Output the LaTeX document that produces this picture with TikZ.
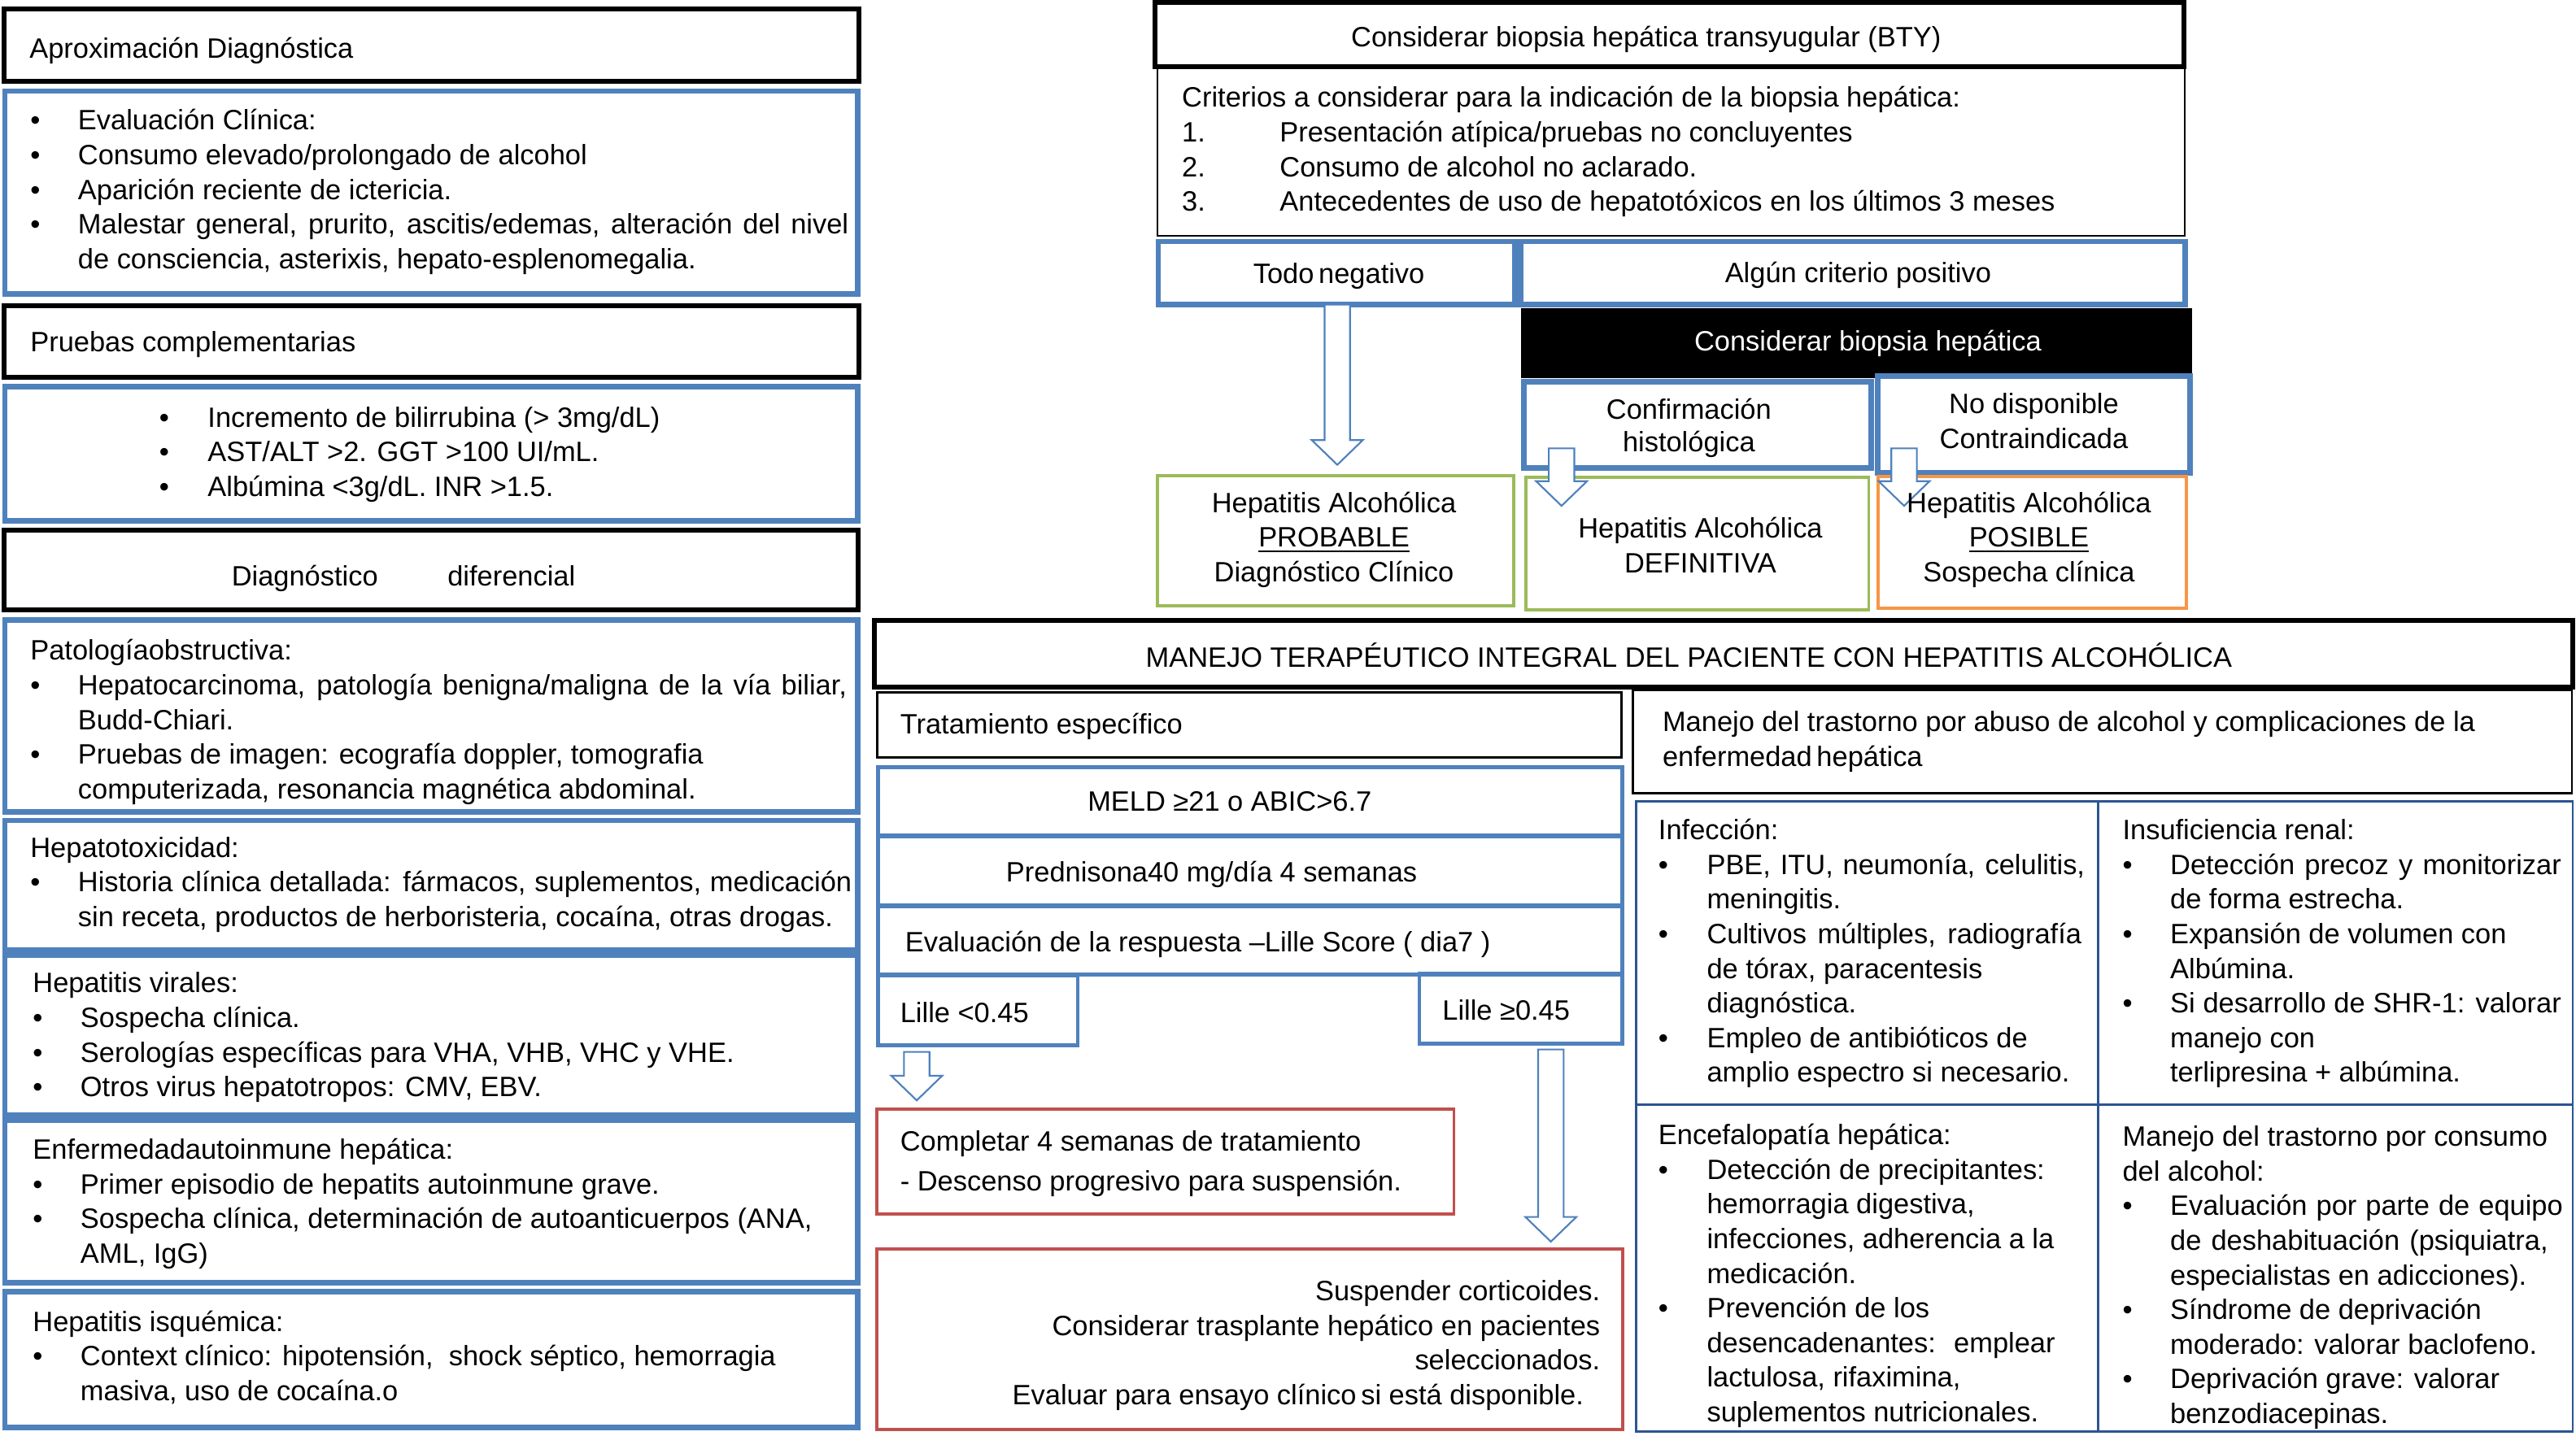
\documentclass[tikz,border=0pt]{standalone}
\usepackage{fontspec}
\setmainfont{Liberation Sans}
\usetikzlibrary{fit,calc}
\definecolor{bA}{HTML}{4F81BD}
\definecolor{bG}{HTML}{2C5592}
\definecolor{gA}{HTML}{9BBB59}
\definecolor{oA}{HTML}{F79646}
\definecolor{rA}{HTML}{C0504D}
\newcommand\fsz{\fontsize{9.7}{12}\selectfont}
\newcommand\barhs{1.55mm}
\newcommand\barhh{3.1mm}
\newcommand\barhl{3mm}
\newcommand\jline[2]{\makebox[#1][s]{#2}}
\newcommand\blockarrow[2]{%
  \draw[barrow] let \p1=(#1), \p2=(#2) in
   (\x2-\barhs,\y1) -- (\x2+\barhs,\y1) -- (\x2+\barhs,\y2+\barhl) -- (\x2+\barhh,\y2+\barhl)
   -- (\x2,\y2) -- (\x2-\barhh,\y2+\barhl) -- (\x2-\barhs,\y2+\barhl) -- cycle;}
\begin{document}
\begin{tikzpicture}[x=0.2mm,y=-0.2mm,
  every node/.style={font=\fsz},
  box/.style={inner sep=0pt, outer sep=0pt, draw},
  kbox/.style={box, draw=black, line width=1.7pt},
  tbox/.style={box, draw=black, line width=0.8pt},
  bbox/.style={box, draw=bA, line width=1.9pt},
  mbox/.style={box, draw=bA, line width=1.3pt},
  gbox/.style={box, draw=bG, line width=0.8pt},
  grbox/.style={box, draw=gA, line width=1.1pt},
  obox/.style={box, draw=oA, line width=1.1pt},
  rbox/.style={box, draw=rA, line width=1.1pt},
  fbox/.style={box, draw=black, fill=black, line width=1pt},
  tl/.style={anchor=base west, inner sep=0pt, outer sep=0pt},
  tc/.style={anchor=base, inner sep=0pt, outer sep=0pt},
  tr/.style={anchor=base east, inner sep=0pt, outer sep=0pt},
  barrow/.style={draw=bA, fill=white, line width=0.6pt, line join=miter}
]
\fill[white] (0,0) rectangle (1568,873.9);
\useasboundingbox (0,0) rectangle (1568,873.9);

% ---------- left column boxes
\node[kbox, fit={(2.5,5.5) (523,49.5)}] (apx) {};
\node[bbox, fit={(3,55.5) (522,179)}] (eval) {};
\node[kbox, fit={(2.5,186) (523,229.5)}] (pru) {};
\node[bbox, fit={(3,235.5) (522,317)}] (lab) {};
\node[kbox, fit={(2.5,323) (522.5,371.5)}] (ddx) {};
\node[bbox, fit={(3,377.5) (522,494.5)}] (obs) {};
\node[bbox, fit={(3,499.5) (522,578.5)}] (hep) {};
\node[bbox, fit={(3,581.5) (522,679)}] (vir) {};
\node[bbox, fit={(3,682) (522,781)}] (aut) {};
\node[bbox, fit={(3,786.5) (522,869)}] (isq) {};

% ---------- top right boxes
\node[tbox, line width=0.6pt, fit={(704.5,40.5) (1330,143.5)}] (crit) {};
\node[kbox, fit={(703,1.5) (1329.5,40.5)}] (bty) {};
\node[bbox, fit={(705,147) (922,185.5)}] (neg) {};
\node[bbox, fit={(925.5,147) (1330,185.5)}] (pos) {};
\node[fbox, fit={(926.5,188.5) (1333.5,229.5)}] (cbh) {};
\node[bbox, fit={(927.5,232.5) (1139,285)}] (conf) {};
\node[bbox, fit={(1143,229) (1333,288)}] (nod) {};
\node[grbox, fit={(704.5,289.5) (921.5,369)}] (prob) {};
\node[grbox, fit={(929,290.5) (1137.5,371.5)}] (defi) {};
\node[obox, fit={(1143,290) (1331,370.5)}] (posi) {};

% ---------- treatment boxes
\node[kbox, fit={(532,378) (1566,418.5)}] (manejo) {};
\node[tbox, fit={(534,421.5) (987,461)}] (trat) {};
\node[tbox, fit={(994,420) (1565.5,483)}] (mtr) {};
\node[mbox, fit={(534.5,467) (987.5,508.5)}] (meld) {};
\node[mbox, fit={(534.5,509.5) (987.5,551)}] (pred) {};
\node[mbox, fit={(534.5,552) (987.5,593.5)}] (evl) {};
\node[mbox, fit={(534.5,594) (656,636.5)}] (lil1) {};
\node[mbox, fit={(864,593) (987.5,635.5)}] (lil2) {};
\node[rbox, fit={(533.5,675.5) (885,739)}] (comp) {};
\node[rbox, fit={(533.5,760.5) (987.5,870.5)}] (susp) {};
\node[gbox, fit={(996,488) (1277,672.5)}] (inf) {};
\node[gbox, fit={(1277,488) (1566,672.5)}] (ren) {};
\node[gbox, fit={(996,672.5) (1277,871.5)}] (enc) {};
\node[gbox, fit={(1277,672.5) (1566,871.5)}] (alc) {};

% ---------- block arrows
\coordinate (a1t) at (814,283);
\coordinate (a2s) at (950.5,273);
\coordinate (a2t) at (950.5,308);
\coordinate (a3s) at (1159,273);
\coordinate (a3t) at (1159,308);
\coordinate (a4t) at (558,670);
\coordinate (a5t) at (944,756);
\blockarrow{neg.south}{a1t}
\blockarrow{a2s}{a2t}
\blockarrow{a3s}{a3t}
\blockarrow{$(lil1.south)+(0,4)$}{a4t}
\blockarrow{$(lil2.south)+(0,3.5)$}{a5t}

% ---------- left texts
\node[tl] (apxT) at (18,35.5) {Aproximación Diagnóstica};
\node[tl] (evalT) at (18.5,79.2) {\begin{tabular}[t]{@{}p{5.8mm}@{}l@{}}
•& Evaluación Clínica:\\
•& Consumo elevado/prolongado de alcohol\\
•& Aparición reciente de ictericia.\\
•& \jline{93.8mm}{Malestar general, prurito, ascitis/edemas, alteración del nivel}\\
 & de consciencia, asterixis, hepato-esplenomegalia.
\end{tabular}};
\node[tl] (pruT) at (18.5,214.2) {Pruebas complementarias};
\node[tl] (labT) at (97,260) {\begin{tabular}[t]{@{}p{5.9mm}@{}l@{}}
•& Incremento de bilirrubina (> 3mg/dL)\\
•& AST/ALT >2. GGT >100 UI/mL.\\
•& Albúmina <3g/dL. INR >1.5.
\end{tabular}};
\node[tl] (ddxT) at (141,356.5) {\makebox[26.3mm][l]{Diagnóstico}diferencial};
\node[tl] (obsT) at (18.5,402) {\begin{tabular}[t]{@{}p{5.8mm}@{}l@{}}
\multicolumn{2}{@{}l@{}}{Patologíaobstructiva:}\\
•& \jline{93.6mm}{Hepatocarcinoma, patología benigna/maligna de la vía biliar,}\\
 & Budd-Chiari.\\
•& Pruebas de imagen: ecografía doppler, tomografia\\
 & computerizada, resonancia magnética abdominal.
\end{tabular}};
\node[tl] (hepT) at (18.5,522) {\begin{tabular}[t]{@{}p{5.8mm}@{}l@{}}
\multicolumn{2}{@{}l@{}}{Hepatotoxicidad:}\\
•& \jline{94.2mm}{Historia clínica detallada: fármacos, suplementos, medicación}\\
 & sin receta, productos de herboristeria, cocaína, otras drogas.
\end{tabular}};
\node[tl] (virT) at (20,604.5) {\begin{tabular}[t]{@{}p{5.8mm}@{}l@{}}
\multicolumn{2}{@{}l@{}}{Hepatitis virales:}\\
•& Sospecha clínica.\\
•& Serologías específicas para VHA, VHB, VHC y VHE.\\
•& Otros virus hepatotropos: CMV, EBV.
\end{tabular}};
\node[tl] (autT) at (20,705.8) {\begin{tabular}[t]{@{}p{5.8mm}@{}l@{}}
\multicolumn{2}{@{}l@{}}{Enfermedadautoinmune hepática:}\\
•& Primer episodio de hepatits autoinmune grave.\\
•& Sospecha clínica, determinación de autoanticuerpos (ANA,\\
 & AML, IgG)
\end{tabular}};
\node[tl] (isqT) at (20,810.5) {\begin{tabular}[t]{@{}p{5.8mm}@{}l@{}}
\multicolumn{2}{@{}l@{}}{Hepatitis isquémica:}\\
•& Context clínico: hipotensión, \ shock séptico, hemorragia\\
 & masiva, uso de cocaína.o
\end{tabular}};

% ---------- top right texts
\node[tc] (btyT) at (1002,28.3) {Considerar biopsia hepática transyugular (BTY)};
\node[tl] (critT) at (719.5,65.3) {\begin{tabular}[t]{@{}p{11.9mm}@{}l@{}}
\multicolumn{2}{@{}l@{}}{Criterios a considerar para la indicación de la biopsia hepática:}\\
1.& Presentación atípica/pruebas no concluyentes\\
2.& Consumo de alcohol no aclarado.\\
3.& Antecedentes de uso de hepatotóxicos en los últimos 3 meses
\end{tabular}};
\node[tc] (negT) at (815,172.3) {Todo\,negativo};
\node[tc] (posT) at (1131,172) {Algún criterio positivo};
\node[tc, text=white] (cbhT) at (1137,213.6) {Considerar biopsia hepática};
\node[tc] (confT) at (1028,255) {\begin{tabular}[t]{@{}c@{}}Confirmación\\[-0.2mm]histológica\end{tabular}};
\node[tc] (nodT) at (1238,252) {\begin{tabular}[t]{@{}c@{}}No disponible\\Contraindicada\end{tabular}};
\node[tc] (probT) at (812,312) {\begin{tabular}[t]{@{}c@{}}Hepatitis Alcohólica\\\underline{PROBABLE}\\Diagnóstico Clínico\end{tabular}};
\node[tc] (defiT) at (1035,327.6) {\begin{tabular}[t]{@{}c@{}}Hepatitis Alcohólica\\DEFINITIVA\end{tabular}};
\node[tc] (posiT) at (1235,312) {\begin{tabular}[t]{@{}c@{}}Hepatitis Alcohólica\\\underline{POSIBLE}\\Sospecha clínica\end{tabular}};

% ---------- treatment texts
\node[tc] (manejoT) at (1028,406) {MANEJO TERAPÉUTICO INTEGRAL DEL PACIENTE CON HEPATITIS ALCOHÓLICA};
\node[tl] (tratT) at (548,447) {Tratamiento específico};
\node[tl] (mtrT) at (1012,445.5) {\begin{tabular}[t]{@{}l@{}}Manejo del trastorno por abuso de alcohol y complicaciones de la\\enfermedad\,hepática\end{tabular}};
\node[tc] (meldT) at (748.5,494) {MELD ≥21 o ABIC>6.7};
\node[tc] (predT) at (737.5,537) {Prednisona40 mg/día 4 semanas};
\node[tl] (evlT) at (551,579.6) {Evaluación de la respuesta –Lille Score ( dia7 )};
\node[tl] (lil1T) at (548,622.5) {Lille <0.45};
\node[tl] (lil2T) at (878,621) {Lille ≥0.45};
\node[tl] (compT) at (548,701) {\begin{tabular}[t]{@{}l@{}}Completar 4 semanas de tratamiento\\[0.6mm]- Descenso progresivo para suspensión.\end{tabular}};
\node[tr] (suspT) at (974,792) {\begin{tabular}[t]{@{}r@{}}Suspender corticoides.\\Considerar trasplante hepático en pacientes\\seleccionados.\\Evaluar para ensayo clínico\,si está disponible.\makebox[2mm]{}\end{tabular}};

% ---------- grid texts
\node[tl] (infT) at (1009.5,511.3) {\begin{tabular}[t]{@{}p{5.9mm}@{}l@{}}
\multicolumn{2}{@{}l@{}}{Infección:}\\
•& \jline{46mm}{PBE, ITU, neumonía, celulitis,}\\
 & meningitis.\\
•& \jline{45.6mm}{Cultivos múltiples, radiografía}\\
 & de tórax, paracentesis\\
 & diagnóstica.\\
•& Empleo de antibióticos de\\
 & amplio espectro si necesario.
\end{tabular}};
\node[tl] (renT) at (1292,511.3) {\begin{tabular}[t]{@{}p{5.8mm}@{}l@{}}
\multicolumn{2}{@{}l@{}}{Insuficiencia renal:}\\
•& \jline{47.6mm}{Detección precoz y monitorizar}\\
 & de forma estrecha.\\
•& Expansión de volumen con\\
 & Albúmina.\\
•& \jline{47.6mm}{Si desarrollo de SHR-1: valorar}\\
 & manejo con\\
 & terlipresina + albúmina.
\end{tabular}};
\node[tl] (encT) at (1009.5,697) {\begin{tabular}[t]{@{}p{5.9mm}@{}l@{}}
\multicolumn{2}{@{}l@{}}{Encefalopatía hepática:}\\
•& Detección de precipitantes:\\
 & hemorragia digestiva,\\
 & infecciones, adherencia a la\\
 & medicación.\\
•& Prevención de los\\
 & desencadenantes: \ emplear\\
 & lactulosa, rifaximina,\\
 & suplementos nutricionales.
\end{tabular}};
\node[tl] (alcT) at (1292,698) {\begin{tabular}[t]{@{}p{5.8mm}@{}l@{}}
\multicolumn{2}{@{}l@{}}{Manejo del trastorno por consumo}\\
\multicolumn{2}{@{}l@{}}{del alcohol:}\\
•& \jline{47.8mm}{Evaluación por parte de equipo}\\
 & \jline{46mm}{de deshabituación (psiquiatra,}\\
 & especialistas en adicciones).\\
•& Síndrome de deprivación\\
 & moderado: valorar baclofeno.\\
•& Deprivación grave: valorar\\
 & benzodiacepinas.
\end{tabular}};
\end{tikzpicture}
\end{document}
